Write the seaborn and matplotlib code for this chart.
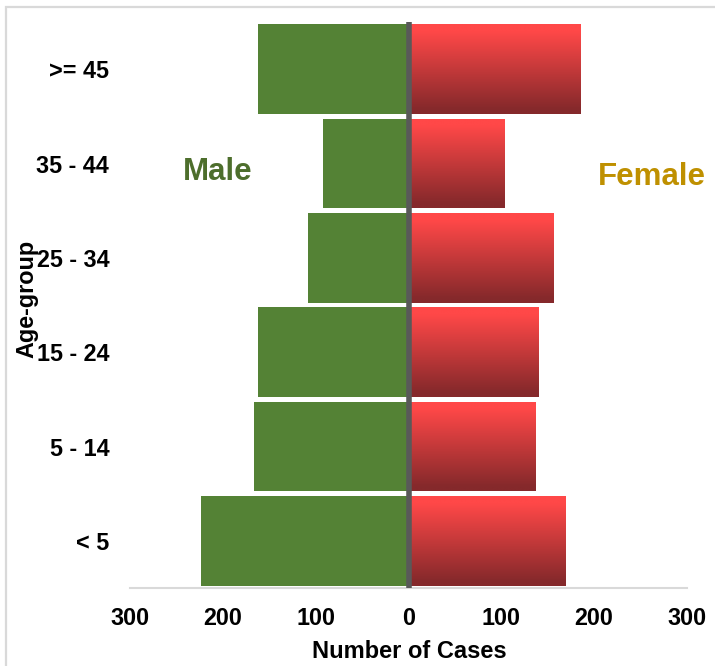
import numpy as np
import pandas as pd
import matplotlib
matplotlib.use("Agg")
import matplotlib.pyplot as plt
from matplotlib.patches import Rectangle
from matplotlib.ticker import FuncFormatter
import seaborn as sns

# Cases by age group and sex
age_groups = [">= 45", "35 - 44", "25 - 34", "15 - 24", "5 - 14", "< 5"]
male_cases = [162, 92, 108, 162, 166, 223]
female_cases = [185, 103, 156, 139, 136, 169]
x_ticks = [-300, -200, -100, 0, 100, 200, 300]

sns.set_style("white")
plt.rcParams["font.family"] = ["Liberation Sans", "DejaVu Sans"]
plt.rcParams["font.weight"] = "bold"

W, H = 715, 666
fig = plt.figure(figsize=(W / 100, H / 100), dpi=100)
ax = fig.add_axes([130 / W, 1 - 588 / H, (687 - 130) / W, (588 - 22) / H])

df = pd.DataFrame({
    "group": age_groups,
    "male": [-v for v in male_cases],
    "female": female_cases,
})

green = "#548235"
sns.barplot(data=df, x="male", y="group", orient="h", order=age_groups,
            color=green, saturation=1, width=0.95, linewidth=0, ax=ax)
n_male = len(ax.patches)
sns.barplot(data=df, x="female", y="group", orient="h", order=age_groups,
            color="#c03a3c", saturation=1, width=0.95, linewidth=0, ax=ax)

# Vertical red gradient on the female bars (bright top, dark bottom)
top = np.array([255, 72, 72]) / 255
bottom = np.array([133, 41, 43]) / 255
t = np.clip((np.linspace(0, 1, 256) - 0.08) / 0.87, 0, 1)[:, None, None]
grad = top * (1 - t) + bottom * t
for p in ax.patches[n_male:]:
    x0, y0, w, h = p.get_x(), p.get_y(), p.get_width(), p.get_height()
    im = ax.imshow(grad, extent=(x0, x0 + w, y0 + h, y0), origin="upper",
                   aspect="auto", interpolation="bilinear", zorder=3)
    im.set_clip_path(p)

ax.axvline(0, color="#595959", lw=4.0, zorder=6)

ax.set_xlim(-300, 300)
ax.set_ylim(5.5, -0.5)
ax.set_xticks(x_ticks)
ax.xaxis.set_major_formatter(FuncFormatter(lambda v, pos: f"{abs(int(v))}"))
ax.set_xlabel("")
ax.set_ylabel("")

for s in ["top", "right", "left"]:
    ax.spines[s].set_visible(False)
ax.spines["bottom"].set_color("#d9d9d9")
ax.spines["bottom"].set_linewidth(1.5)
ax.tick_params(axis="x", direction="out", length=5, width=1.2, color="#d9d9d9",
               pad=9, labelsize=16.8, labelcolor="black")
ax.tick_params(axis="y", length=0, pad=15, labelsize=16.8, labelcolor="black")
for lab in ax.get_xticklabels() + ax.get_yticklabels():
    lab.set_fontweight("bold")

fig.text(409 / W, 1 - 658 / H, "Number of Cases", ha="center", va="baseline",
         fontsize=17, fontweight="bold", color="black")
fig.text(27 / W, 1 - 299 / H, "Age-group", ha="center", va="center",
         rotation=90, fontsize=16.8, fontweight="bold", color="black")

fig.text(218 / W, 1 - 180 / H, "Male", ha="center", va="baseline",
         fontsize=22.5, fontweight="bold", color="#4d6e2c")
fig.text(652 / W, 1 - 185 / H, "Female", ha="center", va="baseline",
         fontsize=22.5, fontweight="bold", color="#bf9000")

# Chart frame
fig.patches.append(Rectangle((6 / W, -0.1), 1.2, 1.1 - 7 / H,
                             transform=fig.transFigure, fill=False,
                             edgecolor="#d9d9d9", linewidth=1.6, zorder=0))

fig.savefig("out.png", dpi=100)
